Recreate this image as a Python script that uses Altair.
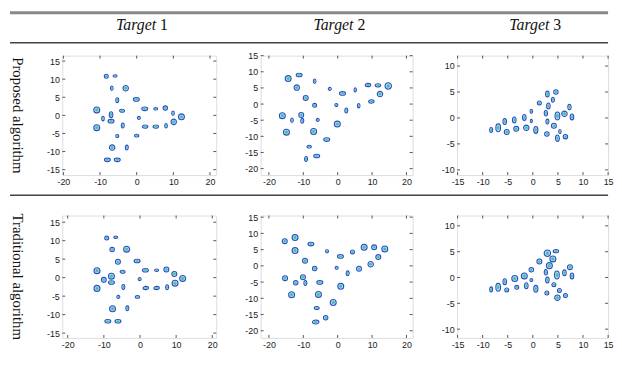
import altair as alt
import pandas as pd

# ---------------- data (blob centres in axis units, blob extent d in px, blob orientation) -------------
# Target 1, proposed
p1_x = [-8.3, -5.9, -6.8, -3.0, -5.3, -0.1, -10.9, -7.0, -4.0, -9.2, -7.0, -10.9, -3.8, 0.6, 2.2, 5.2, 7.8, 9.9, 12.2, 10.1, 8.0, 5.2, 2.3, -5.3, 0.0, -6.7, -2.7, -8.0, -5.3]
p1_y = [10.8, 10.9, 7.5, 7.5, 4.2, 4.4, 1.5, 0.2, 1.3, -0.9, -1.6, -3.4, -2.8, -0.7, 1.8, 1.8, 2.0, 0.6, -0.4, -1.8, -2.9, -3.1, -3.1, -5.7, -5.6, -8.9, -8.9, -12.3, -12.3]
p1_d = [4, 4, 4.5, 5.5, 5, 6, 6, 6, 5, 4.5, 6, 6, 5, 3, 6, 4, 4.5, 4.5, 6, 5.5, 4.5, 5.5, 5.5, 3, 4.5, 5.5, 5, 6, 6]
p1_k = ["o", "h", "v", "o", "v", "h", "o", "v", "h", "v", "h", "o", "v", "o", "h", "h", "o", "v", "o", "o", "v", "h", "h", "o", "h", "o", "v", "h", "h"]

# Target 2, proposed
p2_x = [-14.4, -11.2, -11.9, -6.7, -2.3, 5.1, 8.8, 11.7, 14.7, 12.3, 1.4, -9.3, -6.7, -0.4, 9.8, 6.1, 2.5, -16.1, -10.6, -13.3, -10.3, -5.8, -0.1, -14.9, -7.0, -3.2, -8.3, -6.1, -9.2]
p2_y = [7.9, 9.0, 5.1, 7.1, 4.7, 4.4, 5.9, 5.8, 5.6, 3.1, 3.3, 1.9, -0.4, -0.3, 0.8, -0.5, -2.0, -3.6, -3.4, -5.0, -5.2, -4.9, -6.2, -8.7, -8.5, -11.0, -13.2, -16.1, -17.0]
p2_d = [6, 6, 5.5, 4.5, 3, 4, 5.5, 5.5, 6.5, 5.5, 6, 5, 4, 3, 5.5, 4.5, 5, 6, 5, 4.5, 5, 3, 6, 6, 6, 6, 4.5, 6, 5]
p2_k = ["o", "h", "o", "v", "o", "v", "h", "h", "o", "o", "h", "o", "o", "o", "h", "v", "v", "o", "o", "v", "v", "o", "o", "o", "o", "h", "h", "h", "v"]

# Target 3, proposed
p3_x = [-8.3, -6.9, -5.6, -5.2, -3.7, -3.3, -1.7, -1.3, -0.3, -0.3, 0.6, 1.3, 2.6, 2.8, 2.9, 3.1, 2.9, 4.0, 4.6, 4.2, 4.9, 4.9, 5.4, 6.3, 6.5, 7.3, 7.8]
p3_y = [-2.3, -1.9, -0.7, -2.7, -0.4, -2.1, 0.1, -1.9, 1.3, -0.6, -2.3, 2.9, 0.9, -3.1, 4.6, 2.3, -0.7, 3.5, 5.0, -1.5, 0.4, -3.9, -2.6, 0.8, -3.6, 2.1, 0.2]
p3_d = [5, 8, 6, 5, 6, 5, 6, 5.5, 4, 3.5, 7, 4, 5.5, 4.5, 6, 6, 5, 5, 4.5, 5, 8, 6.5, 4, 5.5, 4.5, 5.5, 6]
p3_k = ["v", "v", "v", "o", "v", "o", "v", "o", "v", "v", "v", "o", "v", "o", "v", "v", "v", "v", "o", "o", "v", "v", "v", "o", "o", "v", "v"]

# Target 1, traditional
p4_x = [-9.2, -6.7, -7.7, -3.7, -6.1, -0.8, -11.9, -7.9, -4.8, -10.0, -7.9, -11.9, -4.6, -0.1, 1.5, 4.6, 7.3, 9.5, 11.8, 9.7, 7.5, 4.6, 1.6, -6.0, -0.7, -7.6, -3.5, -8.9, -6.1]
p4_y = [10.7, 10.9, 7.6, 7.7, 4.3, 4.5, 1.9, 0.4, 1.6, -0.6, -1.3, -2.9, -2.5, -0.4, 2.0, 2.0, 2.2, 1.0, -0.2, -1.5, -2.6, -2.8, -2.8, -5.2, -5.2, -8.4, -8.3, -11.8, -11.8]
p4_d = [4, 4, 4.5, 6, 5, 6, 6, 6, 5, 5, 6, 6, 5, 3, 6, 4, 5, 5, 6, 6, 5, 5.5, 5.5, 3, 4.5, 6, 5, 6, 6]
p4_k = ["o", "h", "o", "o", "o", "h", "o", "o", "h", "o", "h", "o", "v", "o", "h", "h", "o", "o", "o", "o", "v", "h", "h", "o", "h", "o", "v", "h", "h"]

# Target 2, traditional
p5_x = [-15.4, -12.4, -12.4, -7.8, -3.1, 4.3, 7.7, 10.6, 13.7, 11.8, 0.8, -9.5, -6.7, -0.3, 9.6, 6.2, 2.9, -15.3, -10.1, -12.2, -9.4, -5.2, 0.9, -13.4, -5.6, -1.3, -6.1, -3.5, -6.4]
p5_y = [7.6, 8.7, 4.7, 6.7, 4.5, 4.3, 5.7, 5.7, 5.2, 2.7, 2.9, 1.6, -0.8, -0.6, 0.5, -0.9, -2.3, -3.8, -3.5, -5.2, -5.3, -5.1, -6.3, -8.9, -8.8, -11.3, -13.0, -16.0, -17.3]
p5_d = [5, 6, 6, 6, 3, 4, 6, 5, 6, 5, 6, 5, 4.5, 3, 5.5, 5, 5, 5, 5, 4.5, 5, 6, 6, 6, 6, 6, 5, 4.5, 6.5]
p5_k = ["o", "o", "o", "h", "o", "o", "o", "o", "o", "o", "h", "o", "o", "o", "o", "o", "v", "o", "o", "o", "v", "h", "o", "o", "o", "o", "h", "o", "h"]

# Target 3, traditional
p6_x = [-8.3, -6.9, -5.6, -5.2, -3.6, -3.2, -1.7, -1.3, -0.3, -0.3, 0.6, 1.3, 2.6, 2.8, 2.9, 3.3, 2.9, 4.0, 4.6, 4.2, 4.8, 4.9, 5.3, 6.3, 6.5, 7.4, 7.8]
p6_y = [-2.3, -1.9, -0.8, -2.4, -0.2, -1.9, 0.3, -1.6, 1.5, -0.5, -2.2, 3.1, 1.0, -3.0, 4.7, 2.3, -0.5, 3.6, 5.1, -1.4, 0.5, -3.9, -2.5, 0.9, -3.5, 2.0, 0.3]
p6_d = [5, 8, 6, 4, 6, 4, 6, 6, 4.5, 3, 7, 5, 5.5, 4, 6.5, 6, 6, 6, 5.5, 4, 8, 5.5, 4, 6, 4, 5, 6]
p6_k = ["v", "v", "v", "o", "o", "o", "o", "v", "o", "o", "v", "o", "v", "o", "o", "o", "v", "o", "h", "o", "v", "o", "o", "v", "o", "o", "v"]

# axis domains and ticks
col_titles = ["1", "2", "3"]
row_titles = ["Proposed algorithm", "Traditional algorithm"]
t1_xdom, t1_xt, t1_yt = [-20.3, 21.7], [-20, -10, 0, 10, 20], [-15, -10, -5, 0, 5, 10, 15]
t2_xdom, t2_xt, t2_yt = [-22.4, 21.8], [-20, -10, 0, 10, 20], [-20, -15, -10, -5, 0, 5, 10, 15]
t3_xdom, t3_xt, t3_yt = [-15.1, 15.0], [-15, -10, -5, 0, 5, 10, 15], [-10, -5, 0, 5, 10]
p1_ydom, p2_ydom, p3_ydom = [-16.5, 16.5], [-22.0, 15.0], [-11.0, 12.0]
p4_xdom, p4_ydom = [-21.5, 21.1], [-16.3, 16.8]
p5_ydom, p6_ydom = [-22.2, 15.5], [-11.7, 12.0]

# ---------------- styling / layout ----------------
SANS = "Liberation Sans"
SERIF = "Liberation Serif"
FRAME = "#555555"
W1, W2, W3 = 156, 154, 153
H1, H2 = 121, 124
GAP = 45          # horizontal gap between panel frames
RGAP = 41         # vertical gap between the two panel rows
LW = 8            # width of row-label column
FULLW = LW + GAP + W1 + GAP + W2 + GAP + W3
TOP = 45          # distance from top of figure to top of first panel row

shape_scale = alt.Scale(
    domain=["o", "v", "h"],
    range=[
        "M-1,0A1,1 0 1,0 1,0A1,1 0 1,0 -1,0Z",
        "M-0.6,0A0.6,1 0 1,0 0.6,0A0.6,1 0 1,0 -0.6,0Z",
        "M0,-0.6A1,0.6 0 1,0 0,0.6A1,0.6 0 1,0 0,-0.6Z",
    ],
)
NOFRAME = alt.ViewBackground(stroke="transparent")


def make_axis(vals, orient):
    return alt.Axis(values=vals, title=None, ticks=False, domain=False, grid=False,
                    labelFlush=False, labelPadding=3, labelFontSize=9, labelFont=SANS,
                    labelColor="#222222", labelExpr="'' + datum.value", orient=orient)


def panel(xs, ys, ds, ks, xdom, ydom, xt, yt, w, h, head=None):
    df = pd.DataFrame({"x": xs, "y": ys, "d": ds, "k": ks})
    xsc = alt.Scale(domain=xdom, nice=False, zero=False)
    ysc = alt.Scale(domain=ydom, nice=False, zero=False)
    xax = make_axis(xt, "bottom")
    yax = make_axis(yt, "left")
    base = alt.Chart(df).transform_calculate(
        s="datum.d*datum.d", sm="datum.d*datum.d*0.42", si="datum.d*datum.d*0.12")
    enc = dict(x=alt.X("x:Q", scale=xsc, axis=xax), y=alt.Y("y:Q", scale=ysc, axis=yax),
               shape=alt.Shape("k:N", scale=shape_scale, legend=None))
    outer = base.mark_point(filled=True, fill="#bdeefa", stroke="#2b4cc0", strokeWidth=1.1,
                            opacity=1).encode(size=alt.Size("s:Q", scale=None, legend=None), **enc)
    mid = base.mark_point(filled=True, fill="#57cde6", strokeWidth=0,
                          opacity=1).encode(size=alt.Size("sm:Q", scale=None, legend=None), **enc)
    inner = base.mark_point(filled=True, fill="#7aa84e", strokeWidth=0,
                            opacity=1).encode(size=alt.Size("si:Q", scale=None, legend=None), **enc)
    xtd = alt.Chart(pd.DataFrame({"v": xt}))
    ytd = alt.Chart(pd.DataFrame({"v": yt}))
    xenc = alt.X("v:Q", scale=xsc, axis=xax)
    yenc = alt.Y("v:Q", scale=ysc, axis=yax)
    tk = dict(color=FRAME, strokeWidth=1)
    tb = xtd.mark_rule(**tk).encode(x=xenc, y=alt.value(h), y2=alt.value(h - 3))
    tt = xtd.mark_rule(**tk).encode(x=xenc, y=alt.value(0), y2=alt.value(3))
    tl = ytd.mark_rule(**tk).encode(y=yenc, x=alt.value(0), x2=alt.value(3))
    tr = ytd.mark_rule(**tk).encode(y=yenc, x=alt.value(w), x2=alt.value(w - 3))
    layers = [tb, tt, tl, tr, outer, mid, inner]
    if head is not None:
        d = alt.Chart(pd.DataFrame({"a": ["Target"], "n": [head]}))
        ha = d.mark_text(font=SERIF, fontSize=16, fontStyle="italic", align="right", baseline="middle",
                         dx=17, color="#111111").encode(text="a:N", x=alt.value(w / 2), y=alt.value(14 - TOP))
        hb = d.mark_text(font=SERIF, fontSize=16, align="left", baseline="middle",
                         dx=21, color="#111111").encode(text="n:N", x=alt.value(w / 2), y=alt.value(14 - TOP))
        layers += [ha, hb]
    return alt.layer(*layers).properties(width=w, height=h)


def rule_layer(ypos, sw, color):
    return alt.Chart(pd.DataFrame({"a": [0]})).mark_rule(color=color, strokeWidth=sw).encode(
        x=alt.value(0), x2=alt.value(FULLW), y=alt.value(ypos))


def label_cell(text, h, rules):
    t = alt.Chart(pd.DataFrame({"t": [text]})).mark_text(
        font=SERIF, fontSize=15, angle=90, align="center", baseline="middle", color="#111111"
    ).encode(text="t:N", x=alt.value(LW), y=alt.value(h / 2))
    return alt.layer(t, *rules).properties(width=LW, height=h, view=NOFRAME)


lab1 = label_cell(row_titles[0], H1, [rule_layer(1.5 - TOP, 3, "#888888"), rule_layer(32 - TOP, 1.5, "#444444")])
lab2 = label_cell(row_titles[1], H2, [rule_layer(-RGAP / 2, 1.5, "#444444")])

cells = [
    lab1,
    panel(p1_x, p1_y, p1_d, p1_k, t1_xdom, p1_ydom, t1_xt, t1_yt, W1, H1, col_titles[0]),
    panel(p2_x, p2_y, p2_d, p2_k, t2_xdom, p2_ydom, t2_xt, t2_yt, W2, H1, col_titles[1]),
    panel(p3_x, p3_y, p3_d, p3_k, t3_xdom, p3_ydom, t3_xt, t3_yt, W3, H1, col_titles[2]),
    lab2,
    panel(p4_x, p4_y, p4_d, p4_k, p4_xdom, p4_ydom, t1_xt, t1_yt, W1, H2),
    panel(p5_x, p5_y, p5_d, p5_k, t2_xdom, p5_ydom, t2_xt, t2_yt, W2, H2),
    panel(p6_x, p6_y, p6_d, p6_k, t3_xdom, p6_ydom, t3_xt, t3_yt, W3, H2),
]

chart = alt.concat(
    *cells, columns=4, spacing={"row": RGAP, "column": GAP}, bounds="flush"
).properties(padding=0).configure_view(stroke=FRAME, strokeWidth=1).configure(background="white")

chart.save("out.html", embed_options={"renderer": "svg", "actions": False})
